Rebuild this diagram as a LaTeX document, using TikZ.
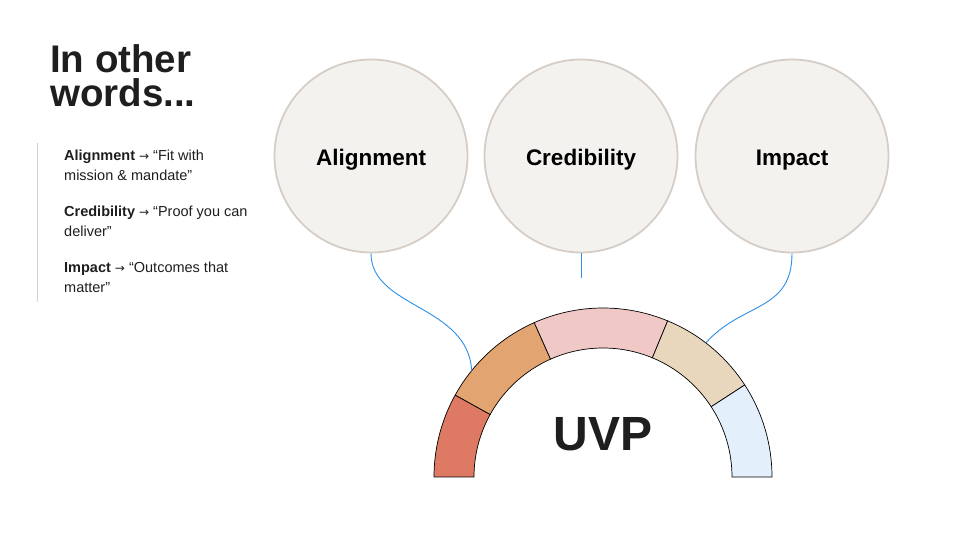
\documentclass[tikz,border=0pt]{standalone}
\usepackage{fontspec}
\setmainfont{Liberation Sans}
\newfontfamily\arrowfont{DejaVu Sans}
\definecolor{circfill}{HTML}{F4F2EF}
\definecolor{circline}{HTML}{D6CDC7}
\definecolor{conn}{HTML}{2E8DE6}
\definecolor{segA}{HTML}{DE7A64}
\definecolor{segB}{HTML}{E2A572}
\definecolor{segC}{HTML}{F0C8C6}
\definecolor{segD}{HTML}{E8D6BD}
\definecolor{segE}{HTML}{E3F0FB}
\definecolor{ink}{HTML}{1E1E1E}
\definecolor{rule}{HTML}{D9D0CC}
\newcommand{\rarr}{{\arrowfont\fontsize{12}{12}\selectfont →}}
\tikzset{
  bubble/.style={circle, draw=circline, line width=1.8pt, fill=circfill, minimum size=193pt, inner sep=0pt},
  bubbletext/.style={font=\fontsize{22.5}{26}\selectfont\bfseries, text=black, yshift=-4pt, inner sep=0pt},
  link/.style={draw=conn, line width=0.9pt},
  seg/.style={draw=black, line width=0.7pt},
  item/.style={anchor=base west, align=left, inner sep=0pt, font=\fontsize{14.5}{20}\selectfont, text=ink},
  titletext/.style={anchor=base west, align=left, inner sep=0pt, font=\fontsize{38.5}{34}\selectfont\bfseries, text=ink},
}
\begin{document}
\begin{tikzpicture}[x=1pt,y=1pt]
\useasboundingbox (0,0) rectangle (960,540);
% title
\node[titletext] (title) at (50,433) {In other\\words...};
% left rule
\draw[rule, line width=0.8pt] (37,397) -- (37,238);
% items
\node[item] (i1) at (64,359) {\textbf{Alignment} \rarr{} “Fit with\\mission \& mandate”};
\node[item] (i2) at (64,303) {\textbf{Credibility} \rarr{} “Proof you can\\deliver”};
\node[item] (i3) at (64,247) {\textbf{Impact} \rarr{} “Outcomes that\\matter”};
% gauge
\coordinate (C) at (603,63);
\def\Ro{169}\def\Ri{129}
\draw[seg, fill=segA] ([shift={(180:\Ro)}]C) arc (180:151:\Ro) -- ([shift={(151:\Ri)}]C) arc (151:180:\Ri) -- cycle;
\draw[seg, fill=segB] ([shift={(151:\Ro)}]C) arc (151:114:\Ro) -- ([shift={(114:\Ri)}]C) arc (114:151:\Ri) -- cycle;
\draw[seg, fill=segC] ([shift={(114:\Ro)}]C) arc (114:67.5:\Ro) -- ([shift={(67.5:\Ri)}]C) arc (67.5:114:\Ri) -- cycle;
\draw[seg, fill=segD] ([shift={(67.5:\Ro)}]C) arc (67.5:33:\Ro) -- ([shift={(33:\Ri)}]C) arc (33:67.5:\Ri) -- cycle;
\draw[seg, fill=segE] ([shift={(33:\Ro)}]C) arc (33:0:\Ro) -- ([shift={(0:\Ri)}]C) arc (0:33:\Ri) -- cycle;
\node[font=\fontsize{48}{50}\selectfont\bfseries, text=ink] (uvp) at (603,106) {UVP};
% bubbles
\node[bubble, label={[bubbletext]center:Alignment}] (al) at (371,384) {};
\node[bubble, label={[bubbletext]center:Credibility}] (cr) at (581,384) {};
\node[bubble, label={[bubbletext]center:Impact}] (im) at (792,384) {};
% connector endpoints
\coordinate (ea) at ([shift={(141:\Ro)}]C);
\coordinate (ec) at (581,262);
\coordinate (ei) at ([shift={(52.5:\Ro)}]C);
\draw[link] (al.south) .. controls (371,232) and (468,235) .. (ea);
\draw[link] (cr.south) -- (ec);
\draw[link] (im.south) .. controls (792,228) and (742,238) .. (ei);
\end{tikzpicture}
\end{document}
